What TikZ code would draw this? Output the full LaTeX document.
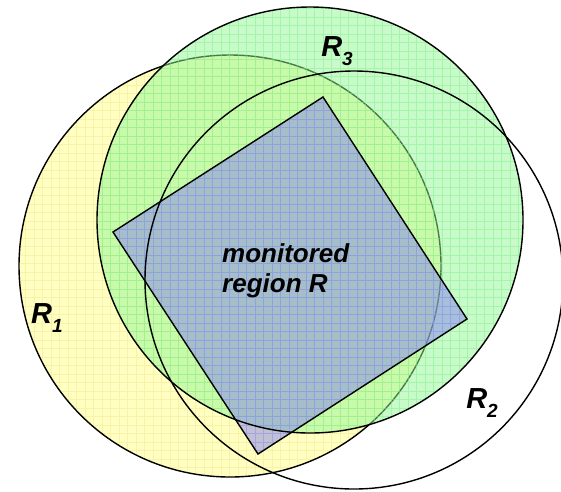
\documentclass[tikz,border=0pt]{standalone}
\usepackage{fontspec}
\setmainfont{Liberation Sans}
\definecolor{yfill}{rgb}{1,1,0.76}
\definecolor{ygrid}{rgb}{0.98,0.95,0.66}
\definecolor{gfill}{rgb}{0.58,0.96,0.58}
\definecolor{ggrid}{rgb}{0.45,0.95,0.5}
\definecolor{bfill}{rgb}{0.52,0.52,0.92}
\definecolor{bgrid}{rgb}{0.55,0.55,1}
\begin{document}
\begin{tikzpicture}[x=1pt,y=-1pt,
  outline/.style={draw=black,line width=1.4pt},
  lbl/.style={font=\fontsize{29}{30}\selectfont\bfseries\itshape,inner sep=0pt},
  gridline/.style={line width=0.5pt}]
\useasboundingbox (0,0) rectangle (561,491);
\coordinate (c1) at (230,266);
\coordinate (c2) at (354,280);
\coordinate (c3) at (310,220);
\coordinate (pa) at (113,232);
\coordinate (pb) at (323,97);
\coordinate (pc) at (467,319);
\coordinate (pd) at (258,454);
% R1 (yellow)
\fill[yfill] (c1) circle[radius=211pt];
\begin{scope}
  \clip (c1) circle[radius=211pt];
  \draw[gridline,ygrid] (0,0) grid[step=8.5pt] (561,491);
\end{scope}
\draw[outline] (c1) circle[radius=211pt];
% R3 (green, translucent)
\fill[gfill,fill opacity=0.5] (c3) circle[radius=213pt];
\begin{scope}
  \clip (c3) circle[radius=213pt];
  \draw[gridline,ggrid,opacity=0.45] (0,0) grid[step=8.5pt] (561,491);
\end{scope}
% monitored region (blue, translucent)
\fill[bfill,fill opacity=0.5] (pa) -- (pb) -- (pc) -- (pd) -- cycle;
\begin{scope}
  \clip (pa) -- (pb) -- (pc) -- (pd) -- cycle;
  \draw[gridline,bgrid,opacity=0.5] (0,0) grid[step=8.5pt] (561,491);
\end{scope}
% outlines on top
\draw[outline] (c3) circle[radius=213pt];
\draw[outline] (c2) circle[radius=209pt];
\draw[outline,line join=miter] (pa) -- (pb) -- (pc) -- (pd) -- cycle;
% labels
\node[lbl] (r3) at (337,51) {R\raisebox{-0.55ex}{\fontsize{19}{19}\selectfont 3}};
\node[lbl] (r1) at (47,318) {R\raisebox{-0.55ex}{\fontsize{19}{19}\selectfont 1}};
\node[lbl] (r2) at (482,403) {R\raisebox{-0.55ex}{\fontsize{19}{19}\selectfont 2}};
\node[anchor=north west,align=left,inner sep=0pt,
      font=\fontsize{26}{30}\selectfont\bfseries\itshape] (mr) at (222,243) {monitored\\region R};
\end{tikzpicture}
\end{document}
